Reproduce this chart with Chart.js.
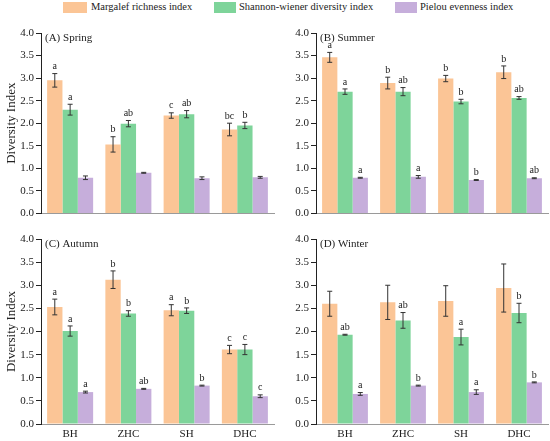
<!DOCTYPE html>
<html>
<head>
<meta charset="utf-8">
<script src="https://cdn.jsdelivr.net/npm/chart.js@4.4.0/dist/chart.umd.min.js"></script>
<style>
  body { margin: 0; background: #fff; }
  #wrap { position: relative; width: 550px; height: 441px; font-family: "Liberation Serif", "Times New Roman", serif; }
  .panel { position: absolute; }
  .lg { position: absolute; top: 2px; height: 11px; }
  .lgt { position: absolute; top: 0px; font-size: 10.5px; line-height: 14px; color: #222; white-space: nowrap; }
</style>
</head>
<body>
<div id="wrap">
  <div class="lg" style="left:63px;width:24px;background:#fbc596"></div>
  <div class="lgt" style="left:91px">Margalef richness index</div>
  <div class="lg" style="left:214px;width:22px;background:#7ed49a"></div>
  <div class="lgt" style="left:239px">Shannon-wiener diversity index</div>
  <div class="lg" style="left:395px;width:22px;background:#c6aedb"></div>
  <div class="lgt" style="left:420px">Pielou evenness index</div>

  <canvas id="cA" class="panel" width="277" height="202" style="left:0;top:20px"></canvas>
  <canvas id="cB" class="panel" width="275" height="202" style="left:275px;top:20px"></canvas>
  <canvas id="cC" class="panel" width="277" height="215" style="left:0;top:226px"></canvas>
  <canvas id="cD" class="panel" width="275" height="215" style="left:275px;top:226px"></canvas>
</div>
<script>
// sitios y series
const sites = ['BH', 'ZHC', 'SH', 'DHC'];
const seriesNames = ['Margalef richness index', 'Shannon-wiener diversity index', 'Pielou evenness index'];
const seriesColors = ['#fbc596', '#7ed49a', '#c6aedb'];
const yTicks = [0, 0.5, 1, 1.5, 2, 2.5, 3, 3.5, 4];

// (A) Spring
const springMean = [[2.95, 1.53, 2.17, 1.86], [2.30, 1.99, 2.20, 1.95], [0.79, 0.90, 0.78, 0.80]];
const springErr  = [[0.15, 0.17, 0.06, 0.14], [0.12, 0.07, 0.08, 0.07], [0.04, 0.01, 0.03, 0.02]];
const springSig  = [['a', 'b', 'c', 'bc'], ['a', 'ab', 'ab', 'b'], ['', '', '', '']];

// (B) Summer
const summerMean = [[3.46, 2.89, 2.99, 3.13], [2.70, 2.70, 2.48, 2.56], [0.79, 0.81, 0.74, 0.78]];
const summerErr  = [[0.11, 0.13, 0.07, 0.14], [0.06, 0.09, 0.05, 0.03], [0.01, 0.03, 0.01, 0.01]];
const summerSig  = [['a', 'b', 'b', 'b'], ['a', 'ab', 'b', 'ab'], ['a', 'a', 'b', 'ab']];

// (C) Autumn
const autumnMean = [[2.53, 3.12, 2.46, 1.61], [2.01, 2.39, 2.45, 1.61], [0.69, 0.76, 0.83, 0.60]];
const autumnErr  = [[0.17, 0.19, 0.12, 0.09], [0.11, 0.06, 0.06, 0.11], [0.02, 0.01, 0.01, 0.03]];
const autumnSig  = [['a', 'b', 'a', 'c'], ['a', 'b', 'b', 'c'], ['a', 'ab', 'b', 'c']];

// (D) Winter
const winterMean = [[2.60, 2.63, 2.66, 2.94], [1.93, 2.24, 1.88, 2.40], [0.65, 0.83, 0.69, 0.90]];
const winterErr  = [[0.27, 0.37, 0.33, 0.52], [0.01, 0.17, 0.17, 0.21], [0.03, 0.01, 0.05, 0.01]];
const winterSig  = [['', '', '', ''], ['ab', 'ab', 'a', 'b'], ['a', 'b', 'a', 'b']];

const panelTitles = ['(A) Spring', '(B) Summer', '(C) Autumn', '(D) Winter'];

const FONT = '"Liberation Serif", "Times New Roman", serif';

// barras de error + letras + etiqueta del panel
const errorBarPlugin = {
    id: 'errorBars',
    afterDatasetsDraw(chart) {
        const ctx = chart.ctx;
        const y = chart.scales.y;
        ctx.save();
        chart.data.datasets.forEach((ds, i) => {
            const meta = chart.getDatasetMeta(i);
            meta.data.forEach((bar, j) => {
                const v = ds.data[j], e = ds.errors[j];
                const yTop = y.getPixelForValue(v + e);
                const yBot = y.getPixelForValue(v - e);
                ctx.strokeStyle = '#333';
                ctx.lineWidth = 1;
                ctx.beginPath();
                ctx.moveTo(bar.x, yTop); ctx.lineTo(bar.x, yBot);
                ctx.moveTo(bar.x - 2.5, yTop); ctx.lineTo(bar.x + 2.5, yTop);
                ctx.moveTo(bar.x - 2.5, yBot); ctx.lineTo(bar.x + 2.5, yBot);
                ctx.stroke();
                if (ds.sig[j]) {
                    ctx.fillStyle = '#222';
                    ctx.font = '10px ' + FONT;
                    ctx.textAlign = 'center';
                    ctx.textBaseline = 'bottom';
                    ctx.fillText(ds.sig[j], bar.x, yTop - 2);
                }
            });
        });
        const a = chart.chartArea;
        ctx.fillStyle = '#222';
        ctx.font = '11px ' + FONT;
        ctx.textAlign = 'left';
        ctx.textBaseline = 'middle';
        ctx.fillText(chart.options.plugins.panelTitle, a.left + 4, a.top + 5);
        ctx.restore();
    }
};

function makePanel(id, mean, err, sig, title, showTitle, showX, padRight) {
    const datasets = seriesNames.map((name, i) => ({
        label: name,
        data: mean[i],
        errors: err[i],
        sig: sig[i],
        backgroundColor: seriesColors[i],
        borderWidth: 0,
        categoryPercentage: 0.79,
        barPercentage: 1.0
    }));
    new Chart(document.getElementById(id), {
        type: 'bar',
        data: { labels: sites, datasets: datasets },
        plugins: [errorBarPlugin],
        options: {
            responsive: false,
            animation: false,
            layout: { padding: { top: 13, right: padRight, bottom: showX ? 0 : 3, left: 0 } },
            plugins: {
                legend: { display: false },
                tooltip: { enabled: false },
                panelTitle: title
            },
            scales: {
                x: {
                    grid: { display: false, drawTicks: false },
                    border: { display: true, color: '#9a9a9a', width: 1 },
                    ticks: { display: showX, color: '#222', padding: 4, font: { family: FONT, size: 11 } },
                    afterFit(scale) { scale.height = showX ? 17 : 0; }
                },
                y: {
                    min: 0, max: 4,
                    afterBuildTicks(scale) { scale.ticks = yTicks.map(v => ({ value: v })); },
                    grid: { display: true, drawOnChartArea: false, drawTicks: true, tickLength: 5, color: '#222' },
                    border: { display: true, color: '#222', width: 1 },
                    ticks: {
                        color: '#222', padding: 2,
                        font: { family: FONT, size: 11 },
                        callback: v => v.toFixed(1)
                    },
                    title: {
                        display: showTitle, text: 'Diversity Index', color: '#222',
                        font: { family: FONT, size: 13 }, padding: { top: 4, bottom: 0 }
                    },
                    afterFit(scale) { scale.width = 41; }
                }
            }
        }
    });
}

makePanel('cA', springMean, springErr, springSig, panelTitles[0], true, false, 3);
makePanel('cB', summerMean, summerErr, summerSig, panelTitles[1], false, false, 2);
makePanel('cC', autumnMean, autumnErr, autumnSig, panelTitles[2], true, true, 3);
makePanel('cD', winterMean, winterErr, winterSig, panelTitles[3], false, true, 2);
</script>
</body>
</html>
